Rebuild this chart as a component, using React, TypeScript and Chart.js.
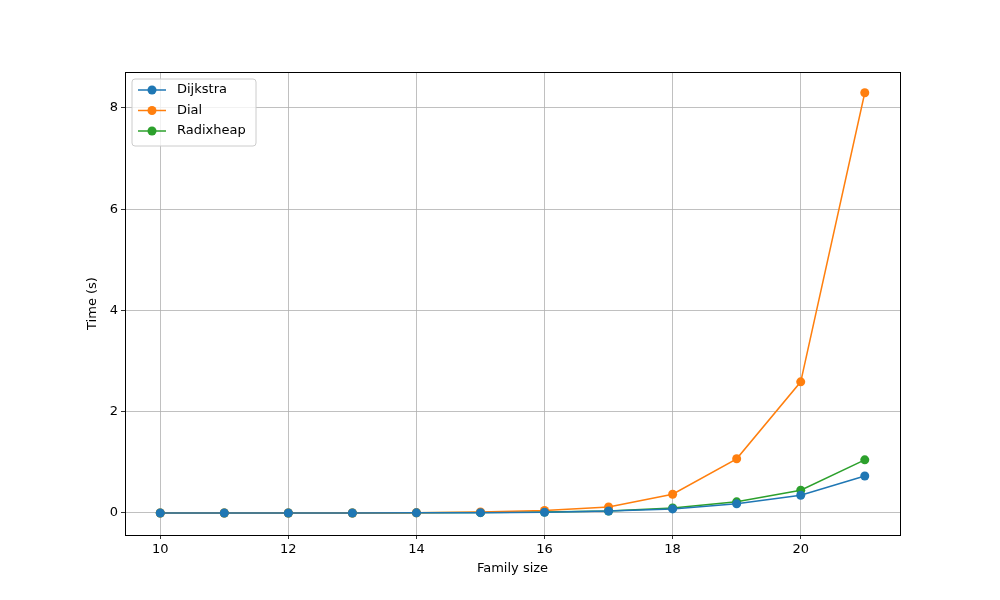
import React, { useEffect, useRef } from "react";
import { Chart, registerables } from "chart.js";
Chart.register(...registerables);

const familySizes = [10, 11, 12, 13, 14, 15, 16, 17, 18, 19, 20, 21];
const dijkstra = [0, 0, 0, 0, 0.003, 0.006, 0.015, 0.04, 0.08, 0.18, 0.35, 0.73];
const dial = [0, 0, 0, 0, 0.005, 0.02, 0.05, 0.12, 0.37, 1.07, 2.59, 8.3];
const radixheap = [0, 0, 0, 0, 0.003, 0.007, 0.017, 0.04, 0.1, 0.22, 0.45, 1.05];
const seriesNames = ["Dijkstra", "Dial", "Radixheap"];
const colors = ["#1f77b4", "#ff7f0e", "#2ca02c"];
const xTitle = "Family size";
const yTitle = "Time (s)";

const font = { family: "DejaVu Sans", size: 13 };

const framePlugin = {
  id: "frame",
  afterDraw(chart: any) {
    const { ctx, chartArea: a } = chart;
    ctx.save();
    ctx.strokeStyle = "#000";
    ctx.lineWidth = 1;
    ctx.strokeRect(a.left + 0.5, a.top + 0.5, a.right - a.left, a.bottom - a.top);
    // axis titles
    ctx.fillStyle = "#000";
    ctx.font = "13px DejaVu Sans";
    ctx.textAlign = "center";
    ctx.textBaseline = "middle";
    ctx.fillText(xTitle, (a.left + a.right) / 2, 569);
    ctx.save();
    ctx.translate(93, (a.top + a.bottom) / 2);
    ctx.rotate(-Math.PI / 2);
    ctx.fillText(yTitle, 0, 0);
    ctx.restore();
    // legend
    ctx.textAlign = "left";
    const x = a.left + 7, y = a.top + 7, w = 124, h = 67;
    ctx.fillStyle = "rgba(255,255,255,0.8)";
    ctx.strokeStyle = "#ccc";
    ctx.beginPath();
    ctx.roundRect(x, y, w, h, 3);
    ctx.fill();
    ctx.stroke();
    seriesNames.forEach((n, i) => {
      const cy = y + 11 + i * 20.5;
      ctx.strokeStyle = colors[i];
      ctx.lineWidth = 1.5;
      ctx.beginPath();
      ctx.moveTo(x + 6, cy);
      ctx.lineTo(x + 34, cy);
      ctx.stroke();
      ctx.fillStyle = colors[i];
      ctx.beginPath();
      ctx.arc(x + 20, cy, 4.5, 0, Math.PI * 2);
      ctx.fill();
      ctx.fillStyle = "#000";
      ctx.fillText(n, x + 45, cy);
    });
    ctx.restore();
  },
};

export default function App() {
  const ref = useRef<HTMLCanvasElement>(null);
  useEffect(() => {
    document.body.style.margin = "0";
    const all = [dijkstra, dial, radixheap];
    const chart = new Chart(ref.current!, {
      type: "scatter",
      data: {
        datasets: all.map((vals, i) => ({
          label: seriesNames[i],
          data: familySizes.map((x, j) => ({ x, y: vals[j] })),
          showLine: true,
          borderColor: colors[i],
          backgroundColor: colors[i],
          borderWidth: 1.5,
          pointRadius: 4.5,
          pointBorderWidth: 0,
        })),
      },
      options: {
        responsive: false,
        animation: false,
        layout: { padding: { left: 0, right: 100, top: 72, bottom: 0 } },
        plugins: { legend: { display: false }, tooltip: { enabled: false } },
        scales: {
          x: {
            type: "linear",
            min: 9.45,
            max: 21.55,
            afterFit: (s: any) => { s.height = 65; },
            ticks: { color: "#000", font },
            afterBuildTicks: (s: any) => {
              s.ticks = [10, 12, 14, 16, 18, 20].map((v) => ({ value: v }));
            },
            grid: { color: "#b0b0b0", tickColor: "#000", tickLength: 4, lineWidth: 0.8 },
            border: { color: "#000" },
          },
          y: {
            min: -0.435,
            max: 8.71,
            afterFit: (s: any) => { s.width = 125; },
            afterBuildTicks: (s: any) => {
              s.ticks = [0, 2, 4, 6, 8].map((v) => ({ value: v }));
            },
            ticks: { color: "#000", font },
            grid: { color: "#b0b0b0", tickColor: "#000", tickLength: 4, lineWidth: 0.8 },
            border: { color: "#000" },
          },
        },
      },
      plugins: [framePlugin],
    } as any);
    return () => chart.destroy();
  }, []);
  return (
    <div style={{ width: 1000, height: 600, background: "#fff" }}>
      <canvas ref={ref} width={1000} height={600} style={{ width: 1000, height: 600 }} />
    </div>
  );
}
